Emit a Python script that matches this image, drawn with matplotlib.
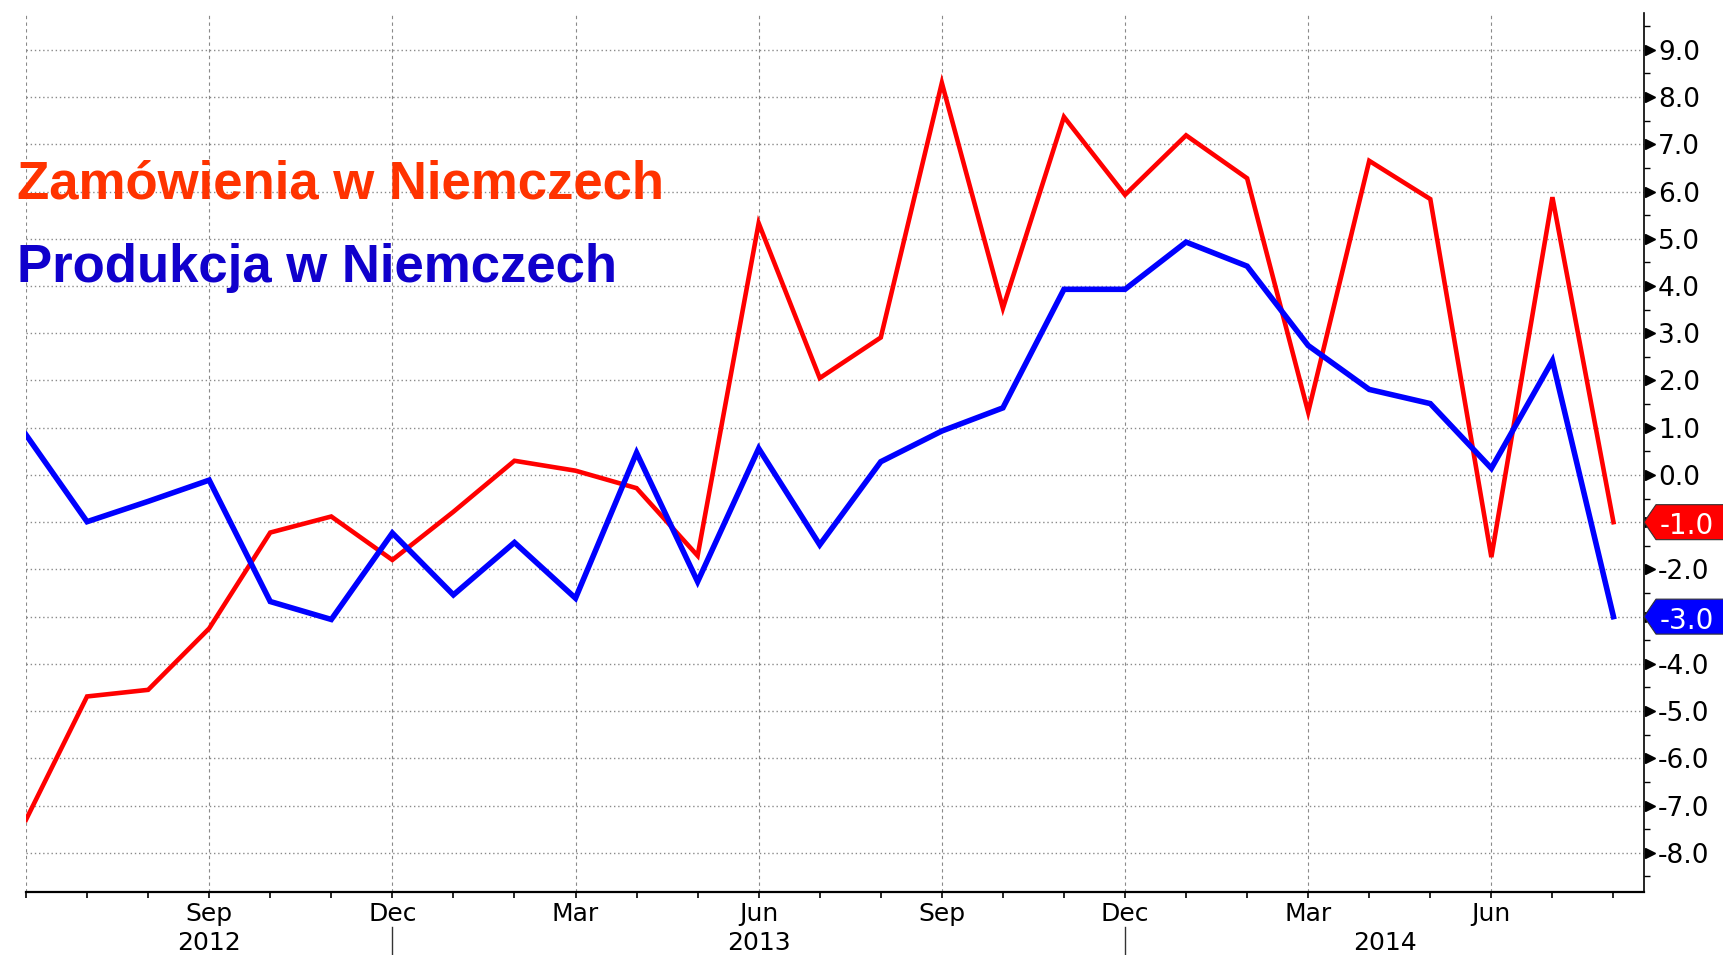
import numpy as np
import matplotlib.pyplot as plt
from matplotlib.patches import Polygon
from matplotlib.ticker import MultipleLocator
from matplotlib.transforms import IdentityTransform, blended_transform_factory

plt.rcParams['axes.unicode_minus'] = False

# Dane miesieczne, czerwiec 2012 - sierpien 2014 (r/r, %)
zamowienia = [-7.30, -4.69, -4.55, -3.25, -1.22, -0.88, -1.80, -0.78, 0.30, 0.09, -0.28, -1.71,
              5.33, 2.05, 2.91, 8.30, 3.53, 7.58, 5.93, 7.19, 6.28, 1.33, 6.65, 5.84, -1.74, 5.88, -1.0]
produkcja = [0.85, -0.99, -0.56, -0.11, -2.68, -3.06, -1.23, -2.54, -1.43, -2.61, 0.47, -2.26,
             0.56, -1.48, 0.28, 0.93, 1.42, 3.93, 3.93, 4.93, 4.42, 2.74, 1.81, 1.51, 0.14, 2.42, -3.0]
x = np.arange(len(zamowienia))

# etykiety kwartalne (indeks miesiaca -> nazwa)
kwartaly = {0: '', 3: 'Sep', 6: 'Dec', 9: 'Mar', 12: 'Jun', 15: 'Sep', 18: 'Dec', 21: 'Mar', 24: 'Jun'}
lata = {'2012': 3, '2013': 12, '2014': 22.25}
granice_lat = [6, 18]

fig = plt.figure(figsize=(17.24, 9.55), dpi=100)
ax = fig.add_axes([26/1724, 63/955, 1618/1724, 879/955])

ax.plot(x, zamowienia, color='#ff0000', lw=3.3, zorder=3, solid_joinstyle='miter')
ax.plot(x, produkcja, color='#0000ff', lw=4.0, zorder=4, solid_joinstyle='miter')

ax.set_xlim(0, 26.5)
ax.set_ylim(-8.83, 9.78)

# siatka
ax.set_yticks(range(-8, 10))
ax.yaxis.set_minor_locator(MultipleLocator(0.5))
ax.set_xticks(list(kwartaly.keys()))
ax.set_xticklabels(list(kwartaly.values()))
ax.xaxis.set_minor_locator(MultipleLocator(1))
ax.yaxis.grid(True, which='major', linestyle=(0, (1, 2)), color='#8a8a8a', lw=1.0)
ax.xaxis.grid(True, which='major', linestyle=(0, (3, 3)), color='#8a8a8a', lw=0.8)
ax.set_axisbelow(True)

for s in ['top', 'left']:
    ax.spines[s].set_visible(False)
ax.spines['bottom'].set_linewidth(1.6)
ax.spines['right'].set_linewidth(1.2)

# etykiety -1.0 i -3.0 sa zasloniete przez znaczniki ostatnich wartosci
ostatnie = [round(zamowienia[-1]), round(produkcja[-1])]
ax.yaxis.tick_right()
ax.yaxis.set_major_formatter(plt.FuncFormatter(
    lambda v, p: '' if round(v) in ostatnie else f'{v:.1f}'))
ax.tick_params(axis='y', which='major', length=0, pad=10, labelsize=19)
ax.tick_params(axis='y', which='minor', direction='out', length=4, width=1)
ax.tick_params(axis='x', which='both', direction='out', length=4, width=1.2, labelsize=18, pad=3)

# trojkaty przy glownych znacznikach osi Y
ax.plot(np.full(18, 1.0035), range(-8, 10), '>', color='black', markersize=7,
        transform=ax.get_yaxis_transform(), clip_on=False)

# lata pod osia X
tr = blended_transform_factory(ax.transData, ax.transAxes)
for rok, pos in lata.items():
    ax.text(pos, -0.058, rok, transform=tr, ha='center', va='center', fontsize=18)
for g in granice_lat:
    ax.plot([g, g], [-0.040, -0.075], color='#333333', lw=1, transform=tr, clip_on=False)

# tytuly serii
fig.text(17/1724, 1 - 198/955, 'Zamówienia w Niemczech', color='#ff3300', fontsize=38,
         fontweight='bold', family='Liberation Sans', va='baseline')
fig.text(17/1724, 1 - 282/955, 'Produkcja w Niemczech', color='#1000cc', fontsize=38,
         fontweight='bold', family='Liberation Sans', va='baseline')

# znaczniki ostatniej wartosci
x0 = ax.transAxes.transform((1, 0))[0]
xr = fig.bbox.width + 5
for val, kol in [(zamowienia[-1], '#ff0000'), (produkcja[-1], '#0000ff')]:
    yc = ax.transData.transform((0, val))[1]
    h = 17.5
    poly = Polygon([(x0, yc), (x0 + 12, yc + h), (xr, yc + h), (xr, yc - h), (x0 + 12, yc - h)],
                   closed=True, facecolor=kol, edgecolor='#333333', lw=0.8,
                   transform=IdentityTransform())
    fig.add_artist(poly)
    fig.text(x0 + 16, yc - 1, f'{val:.1f}', color='white', fontsize=20, va='center_baseline',
             ha='left', transform=IdentityTransform())

fig.savefig('out.png', dpi=100)
